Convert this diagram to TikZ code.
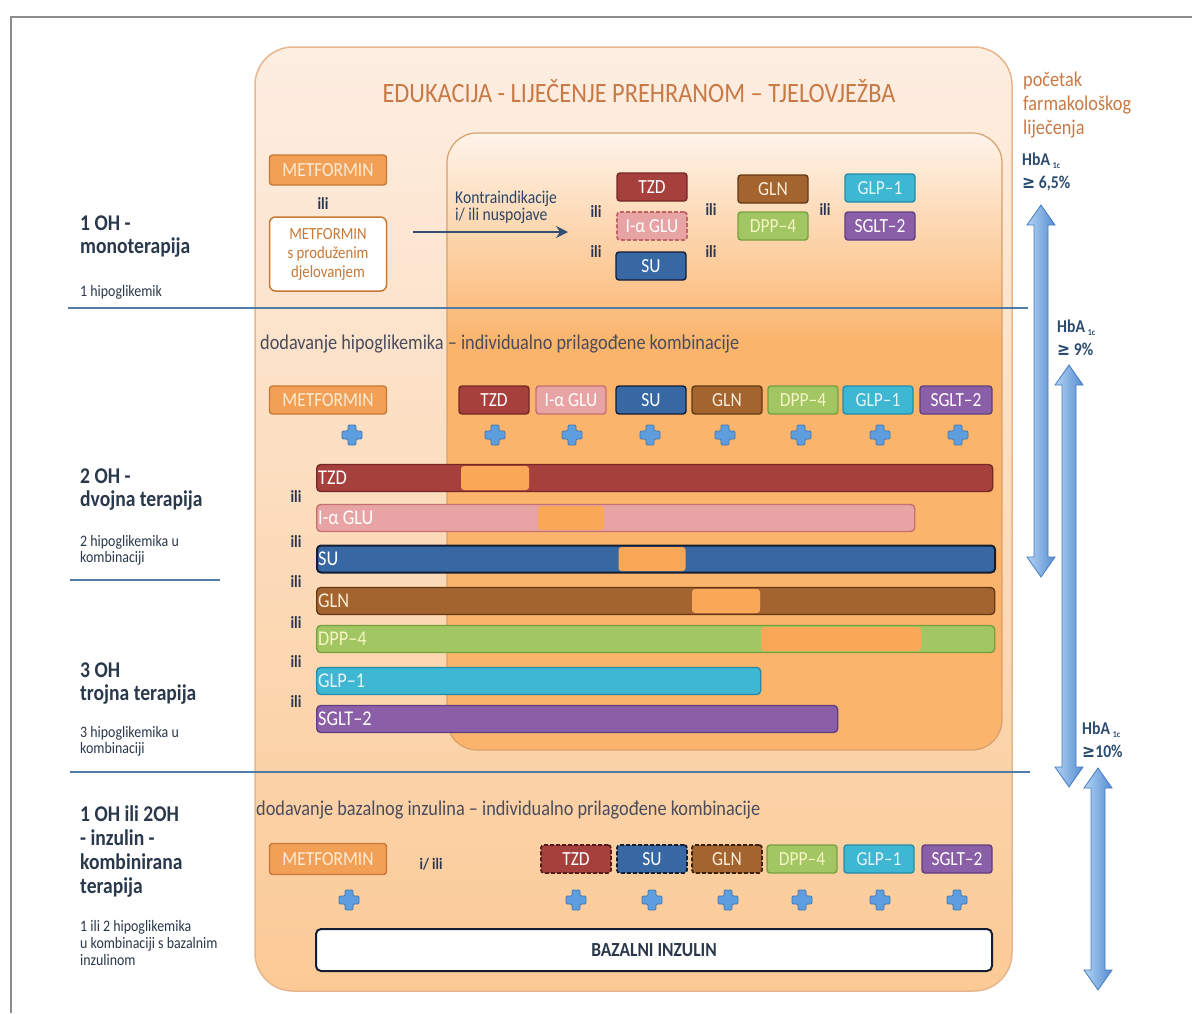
\documentclass[tikz,border=0pt]{standalone}
\usepackage{fontspec}
\setmainfont{Carlito}[FakeStretch=0.87]
\newfontfamily\geqfont{DejaVu Sans}[FakeStretch=0.87]
\usepackage{tikz}
\usetikzlibrary{arrows.meta, positioning, calc}
\usepackage{xcolor}
\definecolor{tzdred}{RGB}{166,64,61}
\definecolor{tzdline}{RGB}{118,40,38}
\definecolor{aglupink}{RGB}{232,164,164}
\definecolor{agluline}{RGB}{196,112,112}
\definecolor{sublue}{RGB}{55,104,163}
\definecolor{suline}{RGB}{20,30,50}
\definecolor{glnbrown}{RGB}{163,100,48}
\definecolor{glnline}{RGB}{100,56,20}
\definecolor{glntext}{RGB}{250,236,214}
\definecolor{dppgreen}{RGB}{161,198,98}
\definecolor{dppline}{RGB}{118,160,64}
\definecolor{dpptext}{RGB}{246,244,196}
\definecolor{glpcyan}{RGB}{62,183,210}
\definecolor{glpline}{RGB}{36,140,168}
\definecolor{glptext}{RGB}{228,246,250}
\definecolor{sgltpurple}{RGB}{139,94,168}
\definecolor{sgltline}{RGB}{96,62,128}
\definecolor{metorange}{RGB}{242,160,86}
\definecolor{metline}{RGB}{200,120,52}
\definecolor{mettext}{RGB}{253,235,215}
\definecolor{patchorange}{RGB}{250,168,88}
\definecolor{outertop}{RGB}{253,238,226}
\definecolor{outerbottom}{RGB}{251,202,150}
\definecolor{outerline}{RGB}{230,182,140}
\definecolor{innertop}{RGB}{254,244,234}
\definecolor{innerorange}{RGB}{251,180,108}
\definecolor{innerline}{RGB}{216,160,108}
\definecolor{sepblue}{RGB}{80,124,168}
\definecolor{plusfill}{RGB}{95,158,222}
\definecolor{plusline}{RGB}{62,120,180}
\definecolor{arrowlight}{RGB}{180,212,245}
\definecolor{arrowdark}{RGB}{84,140,208}
\definecolor{arrowline}{RGB}{70,124,190}
\definecolor{titleorange}{RGB}{200,122,70}
\definecolor{hbablue}{RGB}{44,76,112}
\definecolor{stageslate}{RGB}{42,56,76}
\definecolor{addgray}{RGB}{74,76,92}
\definecolor{ilinavy}{RGB}{40,52,80}
\definecolor{kontrablue}{RGB}{44,68,100}
\definecolor{framegray}{RGB}{140,140,140}
\pgfdeclareverticalshading{innerfade}{100bp}{color(0bp)=(innerorange); color(25bp)=(innerorange);
  color(58bp)=(innerorange); color(75bp)=(innertop); color(100bp)=(innertop)}
\tikzset{
  drug/.style     = {draw, rounded corners=3pt, line width=1.4pt, minimum width=70pt,
                     minimum height=28pt, inner sep=0pt, font=\fontsize{20}{20}\selectfont},
  bar/.style      = {draw, rounded corners=4pt, line width=1.4pt, minimum height=27pt,
                     inner sep=0pt, anchor=west},
  barlabel/.style = {inner sep=0pt, font=\fontsize{21}{21}\selectfont},
  patch/.style    = {fill=patchorange, rounded corners=3pt, minimum height=24pt, inner sep=0pt},
  dashedge/.style = {dash pattern=on 4pt off 2pt, line width=1.8pt},
  tzd/.style      = {fill=tzdred, draw=tzdline, text=white},
  aglu/.style     = {fill=aglupink, draw=agluline, text=white},
  su/.style       = {fill=sublue, draw=suline, text=white},
  gln/.style      = {fill=glnbrown, draw=glnline, text=glntext},
  dpp/.style      = {fill=dppgreen, draw=dppline, text=dpptext},
  glp/.style      = {fill=glpcyan, draw=glpline, text=glptext},
  sglt/.style     = {fill=sgltpurple, draw=sgltline, text=white},
  met/.style      = {fill=metorange, draw=metline, text=mettext, minimum width=117pt},
  ili/.style      = {inner sep=0pt, font=\bfseries\fontsize{17}{17}\selectfont, text=ilinavy},
  stage/.style    = {anchor=north west, align=left, inner sep=0pt,
                     font=\bfseries\fontsize{22.5}{23}\selectfont, text=stageslate},
  stagenote/.style= {anchor=north west, align=left, inner sep=0pt,
                     font=\fontsize{16}{16}\selectfont, text=stageslate},
  hba/.style      = {anchor=north west, align=left, inner sep=0pt,
                     font=\bfseries\fontsize{18}{23}\selectfont, text=hbablue},
  addtext/.style  = {anchor=west, inner sep=0pt, font=\fontsize{21}{21}\selectfont, text=addgray},
  sepline/.style  = {line width=2pt, sepblue},
  plussign/.style = {fill=plusfill, draw=plusline, line width=0.8pt, rounded corners=1.2pt},
  hbarrow/.style  = {left color=arrowlight, right color=arrowdark, draw=arrowline, line width=0.8pt},
}

\begin{document}
\begin{tikzpicture}[x=1pt, y=-1pt]

\useasboundingbox[fill=white] (0,0) rectangle (1192,1013);

% frame
\draw[framegray, line width=2.5pt] (11,1013) -- (11,17) -- (1192,17);

% panels
\shadedraw[top color=outertop, bottom color=outerbottom, draw=outerline, line width=1.5pt,
  rounded corners=38pt] (255,47) rectangle (1012,991);
\shadedraw[shading=innerfade, draw=innerline, line width=1.2pt,
  rounded corners=30pt] (447,133) rectangle (1002,750);

% title and side note
\node[font=\fontsize{28}{28}\selectfont, text=titleorange] (title) at (639,91)
  {EDUKACIJA - LIJEČENJE PREHRANOM – TJELOVJEŽBA};
\node[anchor=north west, align=left, inner sep=0pt, font=\fontsize{21}{24}\selectfont,
  text=titleorange] (pocetak) at (1023,72) {početak\\farmakološkog\\liječenja};

% stage labels
\node[stage] (stage1) at (80,216) {1 OH -\\monoterapija};
\node[stagenote] (note1) at (80,285) {1 hipoglikemik};
\node[stage] (stage2) at (80,469) {2 OH -\\dvojna terapija};
\node[stagenote] (note2) at (80,535) {2 hipoglikemika u\\kombinaciji};
\node[stage] (stage3) at (80,663) {3 OH\\trojna terapija};
\node[stagenote] (note3) at (80,726) {3 hipoglikemika u\\kombinaciji};
\node[stage, font=\bfseries\fontsize{22.5}{24}\selectfont] (stage4) at (80,805)
  {1 OH ili 2OH\\- inzulin -\\kombinirana\\terapija};
\node[stagenote, font=\fontsize{16}{17}\selectfont] (note4) at (80,920)
  {1 ili 2 hipoglikemika\\u kombinaciji s bazalnim\\inzulinom};

% separators
\draw[sepline] (68,308) -- (1028,308);
\draw[sepline] (70,580) -- (220,580);
\draw[sepline] (70,772) -- (1030,772);

% row 1: monotherapy
\node[drug, met, minimum height=30pt] (met1) at (328,170) {METFORMIN};
\node[ili] (ilimet) at (323,204) {ili};
\node[draw=metline, fill=white, line width=1.5pt, rounded corners=6pt, minimum width=117pt,
  minimum height=74pt, align=center, inner sep=0pt, font=\fontsize{17}{19}\selectfont,
  text=metline] (metxr) at (328,254) {METFORMIN\\s produženim\\djelovanjem};

\coordinate (kontrastart) at (413,232);
\coordinate (kontra) at (568,232);
\draw[kontrablue!80!sepblue, line width=2.5pt, -{Stealth[length=12pt, width=12pt, inset=4pt]}]
  (kontrastart) -- (kontra);
\node[anchor=north west, align=left, inner sep=0pt, font=\fontsize{18}{13}\selectfont,
  text=kontrablue] (kontratext) at (455,191) {Kontraindikacije\\i/ ili nuspojave};

\node[drug, tzd] (tzd1) at (652,187) {TZD};
\node[drug, aglu, dashedge, draw=agluline!80!tzdred] (aglu1) at (652,226) {I-α GLU};
\node[drug, su] (su1) at (651,266) {SU};
\node[drug, gln] (gln1) at (773,189) {GLN};
\node[drug, dpp] (dpp1) at (773,226) {DPP–4};
\node[drug, glp] (glp1) at (880,188) {GLP–1};
\node[drug, sglt] (sglt1) at (880,226) {SGLT–2};
\node[ili] (ilia) at (596,212) {ili};
\node[ili] (ilib) at (596,252) {ili};
\node[ili] (ilic) at (711,210) {ili};
\node[ili] (ilid) at (711,252) {ili};
\node[ili] (ilie) at (825,210) {ili};

% row 2: dual and triple therapy
\node[addtext] (add2) at (260,344) {dodavanje hipoglikemika – individualno prilagođene kombinacije};
\node[drug, met] (met2) at (328,400) {METFORMIN};
\node[drug, tzd] (tzd2) at (494,400) {TZD};
\node[drug, aglu] (aglu2) at (571,400) {I-α GLU};
\node[drug, su] (su2) at (651,400) {SU};
\node[drug, gln] (gln2) at (727,400) {GLN};
\node[drug, dpp] (dpp2) at (803,400) {DPP–4};
\node[drug, glp] (glp2) at (878,400) {GLP–1};
\node[drug, sglt, minimum width=72pt] (sglt2) at (956,400) {SGLT–2};

\node[bar, tzd, minimum width=676pt] (bartzd) at (316,478) {};
\node[patch, minimum width=68pt] (pttzd) at (495,478) {};
\node[barlabel, text=white, right=2pt of bartzd.west] {TZD};
\node[bar, aglu, minimum width=598pt] (baraglu) at (316,518) {};
\node[patch, minimum width=66pt] (ptaglu) at (571,518) {};
\node[barlabel, text=white, right=2pt of baraglu.west] {I-α GLU};
\node[bar, su, line width=2pt, minimum width=678pt] (barsu) at (316,559) {};
\node[patch, minimum width=67pt] (ptsu) at (652,559) {};
\node[barlabel, text=white, right=2pt of barsu.west] {SU};
\node[bar, gln, minimum width=678pt] (bargln) at (316,601) {};
\node[patch, minimum width=68pt] (ptgln) at (726,601) {};
\node[barlabel, text=glntext, right=2pt of bargln.west] {GLN};
\node[bar, dpp, minimum width=678pt] (bardpp) at (316,639) {};
\node[patch, minimum width=160pt] (ptdpp) at (841,639) {};
\node[barlabel, text=dpptext, right=2pt of bardpp.west] {DPP–4};
\node[bar, glp, minimum width=444pt] (barglp) at (316,681) {};
\node[barlabel, text=glptext, right=2pt of barglp.west] {GLP–1};
\node[bar, sglt, minimum width=521pt] (barsglt) at (316,719) {};
\node[barlabel, text=white, right=2pt of barsglt.west] {SGLT–2};

\foreach \y [count=\i] in {497,542,582,623,662,702} {
  \node[ili] (ilibar\i) at (296,\y) {ili};
}

% row 3: basal insulin
\node[addtext] (add3) at (256,810) {dodavanje bazalnog inzulina – individualno prilagođene kombinacije};
\node[drug, met, minimum height=31pt] (met3) at (328,859) {METFORMIN};
\node[ili, font=\bfseries\fontsize{16}{16}\selectfont] (iili) at (431,864) {i/ ili};
\node[drug, tzd, dashedge, draw=tzdline!70!black] (tzd3) at (576,859) {TZD};
\node[drug, su, dashedge] (su3) at (652,859) {SU};
\node[drug, gln, dashedge, draw=glnline!60!black] (gln3) at (727,859) {GLN};
\node[drug, dpp] (dpp3) at (802,859) {DPP–4};
\node[drug, glp] (glp3) at (879,859) {GLP–1};
\node[drug, sglt] (sglt3) at (957,859) {SGLT–2};
\node[draw=suline, fill=white, line width=2pt, rounded corners=5pt, minimum width=676pt,
  minimum height=42pt, inner sep=0pt, font=\bfseries\fontsize{20}{20}\selectfont,
  text=stageslate] (bazal) at (654,950) {BAZALNI INZULIN};

% plus signs
\foreach \px/\py in {352/435, 495/435, 572/435, 650/435, 725/435, 801/435, 880/435, 958/435,
                     349/900, 576/900, 652/900, 728/900, 802/900, 880/900, 957/900} {
  \filldraw[plussign] (\px,\py) ++(-4,-10) -- ++(8,0) -- ++(0,6) -- ++(6,0) -- ++(0,8)
    -- ++(-6,0) -- ++(0,6) -- ++(-8,0) -- ++(0,-6) -- ++(-6,0) -- ++(0,-8) -- ++(6,0) -- cycle;
}

% HbA1c thresholds
\node[hba] (hba1) at (1022,153) {HbA\,\raisebox{-3pt}{\fontsize{9}{9}\selectfont 1c}\\{\geqfont ≥} 6,5\%};
\node[hba] (hba2) at (1057,320) {HbA\,\raisebox{-3pt}{\fontsize{9}{9}\selectfont 1c}\\{\geqfont ≥} 9\%};
\node[hba] (hba3) at (1082,722) {HbA\,\raisebox{-3pt}{\fontsize{9}{9}\selectfont 1c}\\{\geqfont ≥}10\%};
\foreach \cx/\ty/\by in {1041/205/577, 1069/365/787, 1098/768/990} {
  \shadedraw[hbarrow] (\cx,\ty) -- (\cx+14,\ty+20) -- (\cx+7,\ty+20) -- (\cx+7,\by-20)
    -- (\cx+14,\by-20) -- (\cx,\by) -- (\cx-14,\by-20) -- (\cx-7,\by-20)
    -- (\cx-7,\ty+20) -- (\cx-14,\ty+20) -- cycle;
}

\end{tikzpicture}
\end{document}
